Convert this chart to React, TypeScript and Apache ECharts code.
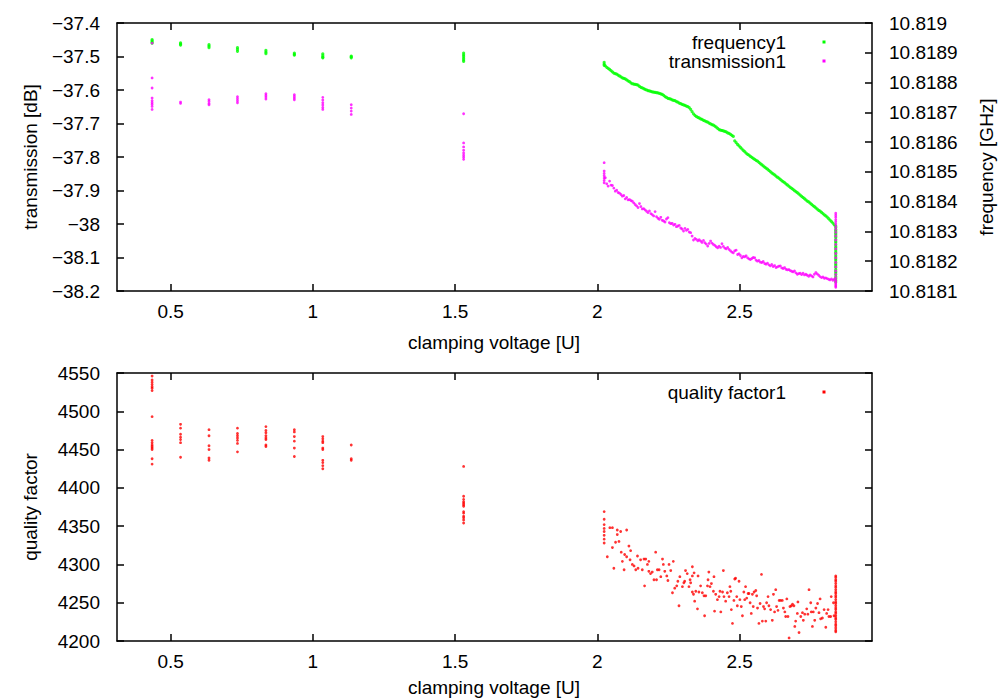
import React, { useEffect, useRef } from "react";
import * as echarts from "echarts";

// ---- data ----
const clusterVoltage = [0.435, 0.535, 0.635, 0.735, 0.835, 0.935, 1.035, 1.135, 1.53, 2.024, 2.838];

const frequencyClusters: number[][] = [
  [10.818944, 10.81894, 10.818936, 10.818932],
  [10.818933, 10.818929, 10.818926],
  [10.818927, 10.818922, 10.818917],
  [10.818917, 10.818911, 10.818905],
  [10.818908, 10.818902, 10.818897],
  [10.818899, 10.818895, 10.818892],
  [10.818896, 10.81889, 10.818885, 10.818883],
  [10.818889, 10.818886, 10.818883],
  [10.818899, 10.818893, 10.818888, 10.818882, 10.818876, 10.818871],
  [10.818868, 10.818862, 10.818858],
  [10.818318, 10.818313, 10.818306, 10.818301, 10.818295, 10.81829, 10.818284, 10.818279, 10.818272, 10.818267,
   10.818262, 10.818255, 10.818249, 10.818244, 10.818238, 10.818231, 10.818226, 10.81822, 10.818214, 10.818208,
   10.818203, 10.818196, 10.81819, 10.818185, 10.818179, 10.818172, 10.818166, 10.818161, 10.818155, 10.818148,
   10.818142, 10.818136, 10.81813],
];

const transmissionClusters: number[][] = [
  [-37.46, -37.564, -37.594, -37.624, -37.632, -37.638, -37.643, -37.649, -37.658],
  [-37.636, -37.64],
  [-37.629, -37.634, -37.64, -37.644],
  [-37.62, -37.626, -37.632, -37.638],
  [-37.611, -37.616, -37.621, -37.627],
  [-37.614, -37.619, -37.624, -37.629],
  [-37.622, -37.63, -37.638, -37.645, -37.652, -37.658],
  [-37.644, -37.654, -37.663, -37.673],
  [-37.671, -37.758, -37.77, -37.78, -37.788, -37.795, -37.801, -37.807],
  [-37.817, -37.842, -37.849, -37.856, -37.863, -37.87, -37.877],
  [-37.968, -37.974, -37.98, -37.987, -37.993, -38.0, -38.008, -38.016, -38.025, -38.036, -38.048, -38.061, -38.074,
   -38.088, -38.101, -38.115, -38.128, -38.14, -38.151, -38.16, -38.167, -38.172, -38.177, -38.181, -38.185, -38.189],
];

const qualityClusters: number[][] = [
  [4546, 4541, 4538, 4535, 4532, 4530, 4527, 4493, 4462, 4459, 4456, 4454, 4452, 4450, 4438, 4431],
  [4483, 4478, 4470, 4466, 4463, 4459, 4440],
  [4476, 4468, 4455, 4450, 4439, 4436],
  [4478, 4471, 4468, 4465, 4462, 4458, 4447],
  [4480, 4475, 4472, 4468, 4465, 4463, 4456, 4454],
  [4476, 4473, 4467, 4461, 4452, 4441],
  [4467, 4464, 4461, 4459, 4452, 4450, 4436, 4433, 4429, 4425],
  [4456, 4438, 4436],
  [4428, 4389, 4385, 4382, 4380, 4378, 4376, 4369, 4367, 4363, 4361, 4358, 4354],
  [4369, 4359, 4352, 4347, 4343, 4338, 4333, 4328],
  [4285, 4283, 4280, 4278, 4275, 4272, 4270, 4267, 4264, 4262, 4259, 4257, 4254, 4251, 4249, 4246, 4243, 4241,
   4238, 4236, 4233, 4230, 4228, 4225, 4222, 4220, 4217, 4214, 4212],
];

const sweepVoltage = [
  2.028, 2.033, 2.038, 2.043, 2.048, 2.053, 2.058, 2.063, 2.068, 2.073,
  2.078, 2.083, 2.088, 2.093, 2.098, 2.103, 2.108, 2.113, 2.118, 2.123,
  2.128, 2.133, 2.138, 2.143, 2.148, 2.153, 2.158, 2.163, 2.168, 2.173,
  2.178, 2.183, 2.188, 2.193, 2.198, 2.203, 2.208, 2.213, 2.218, 2.223,
  2.228, 2.233, 2.238, 2.243, 2.248, 2.253, 2.258, 2.263, 2.268, 2.273,
  2.278, 2.283, 2.288, 2.293, 2.298, 2.303, 2.308, 2.313, 2.318, 2.323,
  2.328, 2.333, 2.338, 2.343, 2.348, 2.353, 2.358, 2.363, 2.368, 2.373,
  2.378, 2.383, 2.388, 2.393, 2.398, 2.403, 2.408, 2.413, 2.418, 2.423,
  2.428, 2.433, 2.438, 2.443, 2.448, 2.453, 2.458, 2.463, 2.468, 2.473,
  2.478, 2.483, 2.488, 2.493, 2.498, 2.503, 2.508, 2.513, 2.518, 2.523,
  2.528, 2.533, 2.538, 2.543, 2.548, 2.553, 2.558, 2.563, 2.568, 2.573,
  2.578, 2.583, 2.588, 2.593, 2.598, 2.603, 2.608, 2.613, 2.618, 2.623,
  2.628, 2.633, 2.638, 2.643, 2.648, 2.653, 2.658, 2.663, 2.668, 2.673,
  2.678, 2.683, 2.688, 2.693, 2.698, 2.703, 2.708, 2.713, 2.718, 2.723,
  2.728, 2.733, 2.738, 2.743, 2.748, 2.753, 2.758, 2.763, 2.768, 2.773,
  2.778, 2.783, 2.788, 2.793, 2.798, 2.803, 2.808, 2.813, 2.818, 2.823,
  2.828, 2.833,
];

const sweepFrequency = [
  10.818856, 10.818851, 10.818848, 10.818844, 10.81884, 10.818836, 10.818832, 10.81883, 10.818828, 10.818825,
  10.818822, 10.818819, 10.818816, 10.818814, 10.818812, 10.818809, 10.818806, 10.818803, 10.818799, 10.818796,
  10.818795, 10.818794, 10.818793, 10.818791, 10.818787, 10.818784, 10.818782, 10.81878, 10.818777, 10.818775,
  10.818773, 10.818772, 10.81877, 10.818769, 10.818768, 10.818767, 10.818766, 10.818765, 10.818764, 10.818762,
  10.81876, 10.818757, 10.818753, 10.81875, 10.818747, 10.818746, 10.818744, 10.818742, 10.81874, 10.818739,
  10.818736, 10.818734, 10.818731, 10.818729, 10.818727, 10.818725, 10.818723, 10.818721, 10.818719, 10.818716,
  10.81871, 10.818702, 10.818695, 10.81869, 10.818686, 10.818683, 10.818681, 10.818678, 10.818676, 10.818673,
  10.818671, 10.818669, 10.818667, 10.818664, 10.818661, 10.818659, 10.818657, 10.818654, 10.81865, 10.818646,
  10.818642, 10.81864, 10.818639, 10.818638, 10.818636, 10.818634, 10.818631, 10.818629, 10.818626, 10.818623,
  10.818619, 10.818604, 10.818598, 10.818592, 10.818587, 10.818582, 10.818577, 10.818572, 10.818568, 10.818563,
  10.818559, 10.818556, 10.818552, 10.818549, 10.818545, 10.818542, 10.818539, 10.818536, 10.818532, 10.818528,
  10.818524, 10.81852, 10.818516, 10.818513, 10.818509, 10.818505, 10.818501, 10.818497, 10.818493, 10.81849,
  10.818486, 10.818482, 10.818479, 10.818475, 10.818471, 10.818467, 10.818464, 10.81846, 10.818456, 10.818452,
  10.818448, 10.818445, 10.818441, 10.818437, 10.818434, 10.81843, 10.818426, 10.818422, 10.818418, 10.818414,
  10.81841, 10.818406, 10.818402, 10.818399, 10.818395, 10.818391, 10.818387, 10.818383, 10.818379, 10.818375,
  10.818371, 10.818368, 10.818364, 10.81836, 10.818356, 10.818352, 10.818348, 10.818343, 10.818338, 10.818333,
  10.818328, 10.818322,
];

const sweepTransmission = [
  -37.862, -37.88, -37.887, -37.872, -37.884, -37.885, -37.893, -37.902, -37.899, -37.906,
  -37.908, -37.912, -37.917, -37.915, -37.925, -37.921, -37.928, -37.927, -37.93, -37.932,
  -37.937, -37.942, -37.946, -37.951, -37.939, -37.948, -37.955, -37.954, -37.958, -37.962,
  -37.966, -37.961, -37.969, -37.972, -37.976, -37.963, -37.978, -37.983, -37.986, -37.98,
  -37.989, -37.991, -37.994, -37.985, -37.981, -37.996, -37.999, -37.998, -38.003, -38.001,
  -38.008, -38.006, -38.004, -38.012, -38.015, -38.021, -38.013, -38.019, -38.016, -38.024,
  -38.026, -38.036, -38.048, -38.043, -38.046, -38.05, -38.047, -38.051, -38.055, -38.049,
  -38.056, -38.06, -38.066, -38.058, -38.051, -38.057, -38.061, -38.064, -38.068, -38.071,
  -38.066, -38.07, -38.059, -38.067, -38.072, -38.074, -38.07, -38.076, -38.08, -38.084,
  -38.086, -38.08, -38.078, -38.091, -38.089, -38.094, -38.101, -38.097, -38.098, -38.095,
  -38.101, -38.104, -38.106, -38.103, -38.1, -38.101, -38.108, -38.111, -38.109, -38.114,
  -38.115, -38.112, -38.118, -38.12, -38.117, -38.122, -38.125, -38.121, -38.127, -38.124,
  -38.13, -38.128, -38.126, -38.125, -38.131, -38.133, -38.13, -38.135, -38.137, -38.136,
  -38.139, -38.141, -38.143, -38.14, -38.146, -38.15, -38.148, -38.147, -38.151, -38.147,
  -38.152, -38.15, -38.153, -38.156, -38.152, -38.155, -38.158, -38.15, -38.145, -38.149,
  -38.153, -38.157, -38.16, -38.158, -38.162, -38.161, -38.163, -38.165, -38.167, -38.164,
  -38.168, -38.165,
];

const qualitySweep: [number, number][] = [
  [2.035, 4310], [2.044, 4348], [2.053, 4348], [2.053, 4322], [2.058, 4295], [2.064, 4329], [2.07, 4345], [2.07, 4339],
  [2.076, 4330], [2.082, 4343], [2.084, 4316], [2.088, 4304], [2.094, 4293], [2.096, 4313], [2.103, 4345], [2.103, 4310],
  [2.111, 4324], [2.115, 4306], [2.117, 4318], [2.123, 4300], [2.129, 4298], [2.135, 4293], [2.141, 4311], [2.143, 4295],
  [2.152, 4306], [2.158, 4293], [2.164, 4307], [2.166, 4272], [2.17, 4307], [2.176, 4300], [2.181, 4304], [2.181, 4291],
  [2.187, 4288], [2.193, 4290], [2.199, 4280], [2.205, 4316], [2.208, 4280], [2.211, 4293], [2.217, 4293], [2.223, 4284],
  [2.229, 4307], [2.232, 4300], [2.237, 4291], [2.244, 4285], [2.248, 4279], [2.252, 4300], [2.258, 4292], [2.264, 4263],
  [2.267, 4304], [2.272, 4269], [2.279, 4272], [2.283, 4278], [2.287, 4246], [2.29, 4284], [2.299, 4271], [2.304, 4276],
  [2.307, 4278], [2.31, 4292], [2.316, 4288], [2.322, 4271], [2.326, 4280], [2.328, 4276], [2.334, 4297], [2.334, 4285],
  [2.334, 4264], [2.338, 4261], [2.34, 4289], [2.342, 4252], [2.346, 4265], [2.352, 4242], [2.354, 4285], [2.357, 4264],
  [2.363, 4272], [2.369, 4263], [2.375, 4259], [2.377, 4233], [2.381, 4259], [2.387, 4272], [2.389, 4280], [2.392, 4290],
  [2.396, 4271], [2.401, 4275], [2.408, 4265], [2.41, 4284], [2.412, 4239], [2.416, 4261], [2.422, 4254], [2.428, 4258],
  [2.431, 4265], [2.434, 4238], [2.44, 4264], [2.443, 4292], [2.445, 4258], [2.451, 4252], [2.457, 4263], [2.463, 4258],
  [2.466, 4271], [2.469, 4265], [2.471, 4241], [2.475, 4223], [2.48, 4253], [2.483, 4281], [2.486, 4282], [2.49, 4258],
  [2.492, 4246], [2.498, 4278], [2.501, 4254], [2.506, 4245], [2.51, 4233], [2.515, 4264], [2.518, 4254], [2.521, 4271],
  [2.525, 4256], [2.53, 4262], [2.533, 4262], [2.537, 4250], [2.541, 4236], [2.545, 4261], [2.548, 4245], [2.551, 4264],
  [2.557, 4266], [2.56, 4259], [2.563, 4243], [2.568, 4223], [2.572, 4249], [2.577, 4287], [2.58, 4226], [2.584, 4245],
  [2.588, 4242], [2.592, 4226], [2.595, 4250], [2.6, 4258], [2.603, 4246], [2.609, 4241], [2.615, 4227], [2.619, 4261],
  [2.623, 4238], [2.627, 4267], [2.63, 4245], [2.635, 4240], [2.639, 4253], [2.644, 4253], [2.65, 4253], [2.654, 4243],
  [2.659, 4238], [2.662, 4232], [2.666, 4255], [2.67, 4232], [2.674, 4204], [2.677, 4245], [2.682, 4246], [2.686, 4248],
  [2.691, 4246], [2.694, 4219], [2.697, 4226], [2.703, 4236], [2.705, 4251], [2.709, 4211], [2.715, 4232], [2.721, 4237],
  [2.724, 4227], [2.729, 4235], [2.736, 4242], [2.74, 4235], [2.744, 4267], [2.75, 4250], [2.752, 4238], [2.756, 4219],
  [2.759, 4238], [2.764, 4227], [2.768, 4243], [2.774, 4249], [2.779, 4237], [2.783, 4255], [2.785, 4229], [2.791, 4230],
  [2.797, 4241], [2.803, 4218], [2.806, 4236], [2.811, 4241], [2.814, 4232], [2.82, 4232], [2.822, 4258], [2.83, 4250],
  [2.832, 4233],
];

const voltageTicks = [0.5, 1, 1.5, 2, 2.5];
const seriesNames = ["frequency1", "transmission1", "quality factor1"];
const seriesColors = ["#00ff00", "#ff00ff", "#ff0000"];

// ---- layout / style ----
const X_MIN = 0.3116;
const X_MAX = 2.9654;
const FONT = '"Liberation Sans", Arial, sans-serif';
const FS = 19;
const LINE = { color: "#000", width: 1.5 };

function clusterPoints(values: number[][]): number[][] {
  const out: number[][] = [];
  values.forEach((list, i) => list.forEach((v) => out.push([clusterVoltage[i], v])));
  return out;
}

const minus = (s: string) => s.replace("-", "\u2212");

function xAxisDef(gridIndex: number, position: "top" | "bottom", labels: boolean) {
  return {
    type: "value",
    gridIndex,
    position,
    min: X_MIN,
    max: X_MAX,
    axisLine: { show: true, onZero: false, lineStyle: LINE },
    axisTick: { show: true, inside: true, length: 7, customValues: voltageTicks, lineStyle: LINE },
    axisLabel: {
      show: labels,
      customValues: voltageTicks,
      margin: 11,
      color: "#000",
      fontFamily: FONT,
      fontSize: FS,
    },
    splitLine: { show: false },
  };
}

function yAxisDef(
  gridIndex: number,
  position: "left" | "right",
  min: number,
  max: number,
  interval: number,
  labels: boolean,
  formatter: (v: number) => string
) {
  return {
    type: "value",
    gridIndex,
    position,
    min,
    max,
    interval,
    axisLine: { show: true, onZero: false, lineStyle: LINE },
    axisTick: { show: true, inside: true, length: 7, lineStyle: LINE },
    axisLabel: {
      show: labels,
      margin: 17,
      color: "#000",
      fontFamily: FONT,
      fontSize: FS,
      formatter,
    },
    splitLine: { show: false },
  };
}

export default function App() {
  const ref = useRef<HTMLDivElement>(null);

  useEffect(() => {
    document.body.style.margin = "0";
    if (!ref.current) return;
    const chart = echarts.init(ref.current, undefined, { renderer: "svg" });

    const freqData = [
      ...clusterPoints(frequencyClusters),
      ...sweepVoltage.map((v, i) => [v, sweepFrequency[i]]),
    ];
    const transData = [
      ...clusterPoints(transmissionClusters),
      ...sweepVoltage.map((v, i) => [v, sweepTransmission[i]]),
    ];
    const qualData = [...clusterPoints(qualityClusters), ...qualitySweep.map((p) => [p[0], p[1]])];

    const txt = (text: string, x: number, y: number, align: string, rot = 0) => ({
      type: "text",
      x,
      y,
      rotation: rot,
      silent: true,
      style: {
        text,
        fill: "#000",
        font: `${FS}px ${FONT}`,
        textAlign: align,
        textVerticalAlign: "middle",
      },
    });
    const marker = (x: number, y: number, color: string) => ({
      type: "rect",
      silent: true,
      shape: { x: x - 1.5, y: y - 1.5, width: 3, height: 3 },
      style: { fill: color },
    });

    chart.setOption({
      animation: false,
      backgroundColor: "#fff",
      grid: [
        { left: 117, top: 23, width: 755, height: 268, containLabel: false },
        { left: 117, top: 373, width: 755, height: 268, containLabel: false },
      ],
      xAxis: [
        xAxisDef(0, "bottom", true),
        xAxisDef(0, "top", false),
        xAxisDef(1, "bottom", true),
        xAxisDef(1, "top", false),
      ],
      yAxis: [
        yAxisDef(0, "left", -38.2, -37.4, 0.1, true, (v) => minus(String(Math.round(v * 10) / 10))),
        yAxisDef(0, "right", 10.8181, 10.819, 0.0001, true, (v) => String(Number(v.toFixed(4)))),
        yAxisDef(1, "left", 4200, 4550, 50, true, (v) => String(Math.round(v))),
        yAxisDef(1, "right", 4200, 4550, 50, false, (v) => String(Math.round(v))),
      ],
      series: [
        {
          name: seriesNames[0],
          type: "scatter",
          xAxisIndex: 0,
          yAxisIndex: 1,
          data: freqData,
          symbol: "circle",
          symbolSize: 3.2,
          itemStyle: { color: seriesColors[0] },
          silent: true,
        },
        {
          name: seriesNames[1],
          type: "scatter",
          xAxisIndex: 0,
          yAxisIndex: 0,
          data: transData,
          symbol: "circle",
          symbolSize: 2.8,
          itemStyle: { color: seriesColors[1] },
          silent: true,
        },
        {
          name: seriesNames[2],
          type: "scatter",
          xAxisIndex: 2,
          yAxisIndex: 2,
          data: qualData,
          symbol: "circle",
          symbolSize: 2.8,
          itemStyle: { color: seriesColors[2] },
          silent: true,
        },
      ],
      graphic: [
        txt("transmission [dB]", 30, 157, "center", Math.PI / 2),
        txt("clamping voltage [U]", 494, 342, "center"),
        txt("quality factor", 30, 507, "center", Math.PI / 2),
        txt("clamping voltage [U]", 494, 687, "center"),
        txt("frequency [GHz]", 986, 167, "center", Math.PI / 2),
        txt(seriesNames[0], 786, 42, "right"),
        marker(824, 42, seriesColors[0]),
        txt(seriesNames[1], 786, 61, "right"),
        marker(824, 61, seriesColors[1]),
        txt(seriesNames[2], 786, 392, "right"),
        marker(824, 392, seriesColors[2]),
      ],
    });

    return () => chart.dispose();
  }, []);

  return <div ref={ref} style={{ width: 1000, height: 700 }} />;
}
